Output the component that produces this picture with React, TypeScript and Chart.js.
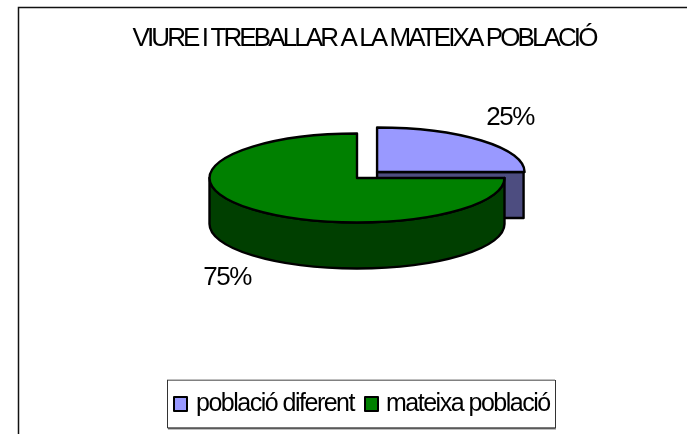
import React, { useEffect, useRef } from "react";
import { Chart, registerables } from "chart.js";

Chart.register(...registerables);

const titleText = "VIURE I TREBALLAR A LA MATEIXA POBLACIÓ";
const categories = ["població diferent", "mateixa població"];
const values = [25, 75];
const topColors = ["#9999FF", "#008000"];
const wallColors = ["#4D4D80", "#003F00"];

const FONT = "'Liberation Sans', Arial, sans-serif";
const CX = 357, CY = 178, RX = 147.5, RY = 44.5, DEPTH = 46;
const labelSpots = [[510, 118], [227, 278]];
const legendSwatchX = [173, 364];
const legendTextX = [196, 386];

function geom(chart: any) {
  const arcs = chart.getDatasetMeta(0).data;
  const a0 = arcs[0];
  const sx = RX / a0.outerRadius, sy = RY / a0.outerRadius;
  return { arcs, a0, sx, sy };
}

const pie3d = {
  id: "pie3d",
  beforeDraw(chart: any) {
    const ctx = chart.ctx;
    if (!chart.titleBlock.__wrapped) {
      const d = chart.titleBlock.draw;
      chart.titleBlock.draw = function (...a: any[]) {
        ctx.save();
        ctx.letterSpacing = "-2.9px";
        d.apply(this, a);
        ctx.restore();
      };
      chart.titleBlock.__wrapped = true;
    }
    ctx.save();
    ctx.fillStyle = "#fff";
    ctx.fillRect(0, 0, chart.width, chart.height);
    ctx.strokeStyle = "#111";
    ctx.lineWidth = 1.5;
    ctx.beginPath();
    ctx.moveTo(18.5, chart.height);
    ctx.lineTo(18.5, 7.5);
    ctx.lineTo(chart.width, 7.5);
    ctx.stroke();
    ctx.restore();
  },
  beforeDatasetsDraw(chart: any) {
    const ctx = chart.ctx;
    const { arcs, a0, sx, sy } = geom(chart);
    ctx.save();
    ctx.lineWidth = 2.4;
    ctx.strokeStyle = "#000";
    ctx.lineJoin = "round";
    arcs.forEach((arc: any, i: number) => {
      const mid = (arc.startAngle + arc.endAngle) / 2;
      const off = (arc.options.offset || 0) / 4;
      const x = CX + Math.cos(mid) * off * sx;
      const y = CY + Math.sin(mid) * off * sy;
      ctx.fillStyle = wallColors[i];
      ctx.beginPath();
      if (off > 0) {
        ctx.rect(x, y, RX - 1, DEPTH);
      } else {
        ctx.moveTo(x + RX, y);
        ctx.lineTo(x + RX, y + DEPTH);
        ctx.ellipse(x, y + DEPTH, RX, RY, 0, 0, Math.PI);
        ctx.lineTo(x - RX, y);
        ctx.ellipse(x, y, RX, RY, 0, Math.PI, 0, true);
        ctx.closePath();
      }
      ctx.fill();
      ctx.stroke();
    });
    ctx.restore();
    ctx.save();
    ctx.translate(CX, CY);
    ctx.scale(sx, sy);
    ctx.translate(-a0.x, -a0.y);
  },
  afterDatasetsDraw(chart: any) {
    const ctx = chart.ctx;
    ctx.restore();
    const { arcs, sx, sy } = geom(chart);
    ctx.save();
    ctx.lineWidth = 2.4;
    ctx.strokeStyle = "#000";
    ctx.lineJoin = "round";
    arcs.forEach((arc: any) => {
      const mid = (arc.startAngle + arc.endAngle) / 2;
      const off = (arc.options.offset || 0) / 4;
      const x = CX + Math.cos(mid) * off * sx;
      const y = CY + Math.sin(mid) * off * sy;
      ctx.beginPath();
      ctx.moveTo(x, y);
      ctx.ellipse(x, y, RX, RY, 0, arc.startAngle, arc.endAngle);
      ctx.closePath();
      ctx.stroke();
    });
    ctx.fillStyle = "#000";
    ctx.letterSpacing = "-1.5px";
    ctx.font = `26px ${FONT}`;
    ctx.textAlign = "center";
    ctx.textBaseline = "middle";
    values.forEach((v, i) => {
      ctx.fillText(`${v}%`, labelSpots[i][0], labelSpots[i][1]);
    });

    // legend
    ctx.fillStyle = "#fff";
    ctx.fillRect(167, 380, 388, 48);
    ctx.fillStyle = "#808080";
    ctx.fillRect(168, 427.5, 388, 2);
    ctx.fillRect(167, 379.5, 388, 1.5);
    ctx.strokeStyle = "#333";
    ctx.lineWidth = 1;
    ctx.beginPath();
    ctx.moveTo(167.5, 380);
    ctx.lineTo(167.5, 428);
    ctx.lineTo(555, 428);
    ctx.moveTo(555.5, 428);
    ctx.lineTo(555.5, 380);
    ctx.stroke();
    ctx.font = `25px ${FONT}`;
    ctx.textAlign = "left";
    ctx.textBaseline = "alphabetic";
    ctx.letterSpacing = "-1.5px";
    categories.forEach((t, i) => {
      ctx.fillStyle = topColors[i];
      ctx.strokeStyle = "#000";
      ctx.lineWidth = 2;
      ctx.fillRect(legendSwatchX[i] + 1, 397, 13, 14);
      ctx.strokeRect(legendSwatchX[i] + 1, 397, 13, 14);
      ctx.fillStyle = "#000";
      ctx.fillText(t, legendTextX[i], 411);
    });
    ctx.restore();
  },
};

export default function App() {
  const ref = useRef<HTMLCanvasElement>(null);
  useEffect(() => {
    document.body.style.margin = "0";
    const chart = new Chart(ref.current!, {
      type: "pie",
      data: {
        labels: categories,
        datasets: [{
          data: values,
          backgroundColor: topColors,
          borderWidth: 0,
          offset: [77, 0],
          clip: false,
        } as any],
      },
      options: {
        responsive: false,
        animation: false,
        radius: 100,
        layout: { padding: { left: 41, right: 0, bottom: 6, top: 0 } },
        plugins: {
          tooltip: { enabled: false },
          legend: { display: false },
          title: {
            display: true,
            text: titleText,
            color: "#000",
            font: { family: FONT, size: 26, weight: "normal" },
            padding: { top: 23, bottom: 10 },
          },
        },
      } as any,
      plugins: [pie3d as any],
    });
    return () => chart.destroy();
  }, []);
  return <canvas ref={ref} width={687} height={434} style={{ display: "block", width: 687, height: 434 }} />;
}
